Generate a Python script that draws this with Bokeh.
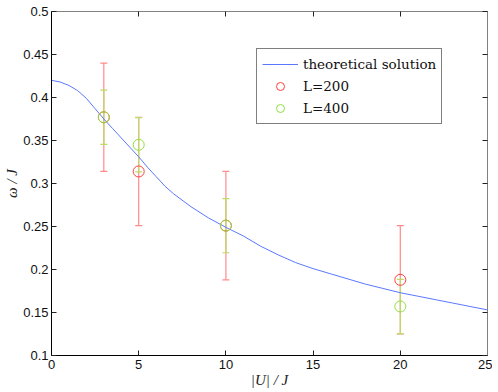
from bokeh.plotting import figure
from bokeh.models import (Range1d, LinearAxis, FixedTicker, CustomJSTickFormatter,
                          ColumnDataSource, Whisker, TeeHead, Legend, LegendItem)
from bokeh.embed import file_html
from bokeh.resources import INLINE

# theoretical curve
theory_x = [0, 0.5, 1, 1.5, 2, 2.5, 3, 3.5, 4, 4.5, 5, 5.5, 6, 6.5, 7, 8, 9, 10,
            11, 12, 13, 14, 15, 16, 17, 18, 19, 20, 21, 22, 23, 24, 25]
theory_y = [0.420, 0.418, 0.414, 0.408, 0.399, 0.387, 0.375, 0.364, 0.353, 0.342,
            0.331, 0.319, 0.308, 0.297, 0.288, 0.273, 0.260, 0.249,
            0.239, 0.227, 0.217, 0.208, 0.201, 0.195, 0.189, 0.183, 0.178, 0.173,
            0.169, 0.165, 0.161, 0.157, 0.153]

U = [3, 5, 10, 20]
L200 = [0.377, 0.314, 0.251, 0.188]
err200 = [0.063, 0.063, 0.063, 0.063]
L400 = [0.377, 0.345, 0.251, 0.157]
err400 = [0.0315, 0.0315, 0.0315, 0.0315]

x_ticks = [0, 5, 10, 15, 20, 25]
y_ticks = [0.1, 0.15, 0.2, 0.25, 0.3, 0.35, 0.4, 0.45, 0.5]

p = figure(width=492, height=390, output_backend="svg", toolbar_location=None,
           x_range=Range1d(0, 25), y_range=Range1d(0.1, 0.5),
           min_border_left=51, min_border_right=5, min_border_top=11, min_border_bottom=35)
p.outline_line_color = None
p.xgrid.grid_line_color = None
p.ygrid.grid_line_color = None
p.background_fill_color = "white"
p.border_fill_color = "white"

def style_axis(ax, ticks, color, show_labels=True):
    ax.ticker = FixedTicker(ticks=ticks)
    ax.minor_tick_line_color = None
    ax.major_tick_in = 5
    ax.major_tick_out = 0
    ax.major_tick_line_color = "#222222"
    ax.axis_line_color = color
    ax.axis_line_width = 1
    ax.major_label_text_font = "Liberation Sans"
    ax.major_label_text_font_size = "13px"
    ax.major_label_text_color = "#111111"
    if show_labels:
        ax.formatter = CustomJSTickFormatter(code="return String(tick)")
    else:
        ax.formatter = CustomJSTickFormatter(code="return ''")
        ax.major_label_standoff = 0

xa = p.xaxis[0]
ya = p.yaxis[0]
style_axis(xa, x_ticks, "black")
style_axis(ya, y_ticks, "black")
xa.major_label_standoff = 4
ya.major_label_standoff = 3
xa.axis_label = "|U| / J"
ya.axis_label = "ω / J"
for ax in (xa, ya):
    ax.axis_label_text_font = "Liberation Serif"
    ax.axis_label_text_font_style = "italic"
    ax.axis_label_text_font_size = "15px"
    ax.axis_label_text_color = "#222222"
    ax.axis_label_standoff = 0

top = LinearAxis()
right = LinearAxis()
style_axis(top, x_ticks, "#808080", show_labels=False)
style_axis(right, y_ticks, "#808080", show_labels=False)
p.add_layout(top, "above")
p.add_layout(right, "right")

line = p.line(theory_x, theory_y, line_color="#5a78ff", line_width=1)

src200 = ColumnDataSource(dict(x=U, y=L200,
                               lo=[v - e for v, e in zip(L200, err200)],
                               hi=[v + e for v, e in zip(L200, err200)]))
src400 = ColumnDataSource(dict(x=U, y=L400,
                               lo=[v - e for v, e in zip(L400, err400)],
                               hi=[v + e for v, e in zip(L400, err400)]))

red_bar = "#ff8a8a"
green_bar = "#bbdc66"
w200 = Whisker(source=src200, base="x", upper="hi", lower="lo", dimension="height",
               line_color=red_bar, line_width=1.2,
               upper_head=TeeHead(size=7, line_color=red_bar, line_width=1.2),
               lower_head=TeeHead(size=7, line_color=red_bar, line_width=1.2))
p.add_layout(w200)
c200 = p.scatter("x", "y", source=src200, marker="circle", size=11,
                 fill_color=None, line_color="#ff4040", line_width=1)
w400 = Whisker(source=src400, base="x", upper="hi", lower="lo", dimension="height",
               line_color=green_bar, line_width=1.2,
               upper_head=TeeHead(size=7, line_color=green_bar, line_width=1.2),
               lower_head=TeeHead(size=7, line_color=green_bar, line_width=1.2))
p.add_layout(w400)
c400 = p.scatter("x", "y", source=src400, marker="circle", size=11,
                 fill_color=None, line_color="#90e040", line_width=1)

legend = Legend(items=[LegendItem(label="theoretical solution", renderers=[line]),
                       LegendItem(label="L=200", renderers=[c200]),
                       LegendItem(label="L=400", renderers=[c400])],
                location=(205, 231))
legend.padding = 5
legend.spacing = 2
legend.margin = 0
legend.glyph_width = 36
legend.glyph_height = 20
legend.label_height = 20
legend.label_standoff = 5
legend.label_text_font = "DejaVu Serif"
legend.label_text_font_size = "13.5px"
legend.label_text_color = "#111111"
legend.border_line_color = "black"
legend.border_line_width = 1
legend.background_fill_color = "white"
legend.background_fill_alpha = 1
p.add_layout(legend, "center")

open("out.html", "w").write(file_html(p, INLINE))
